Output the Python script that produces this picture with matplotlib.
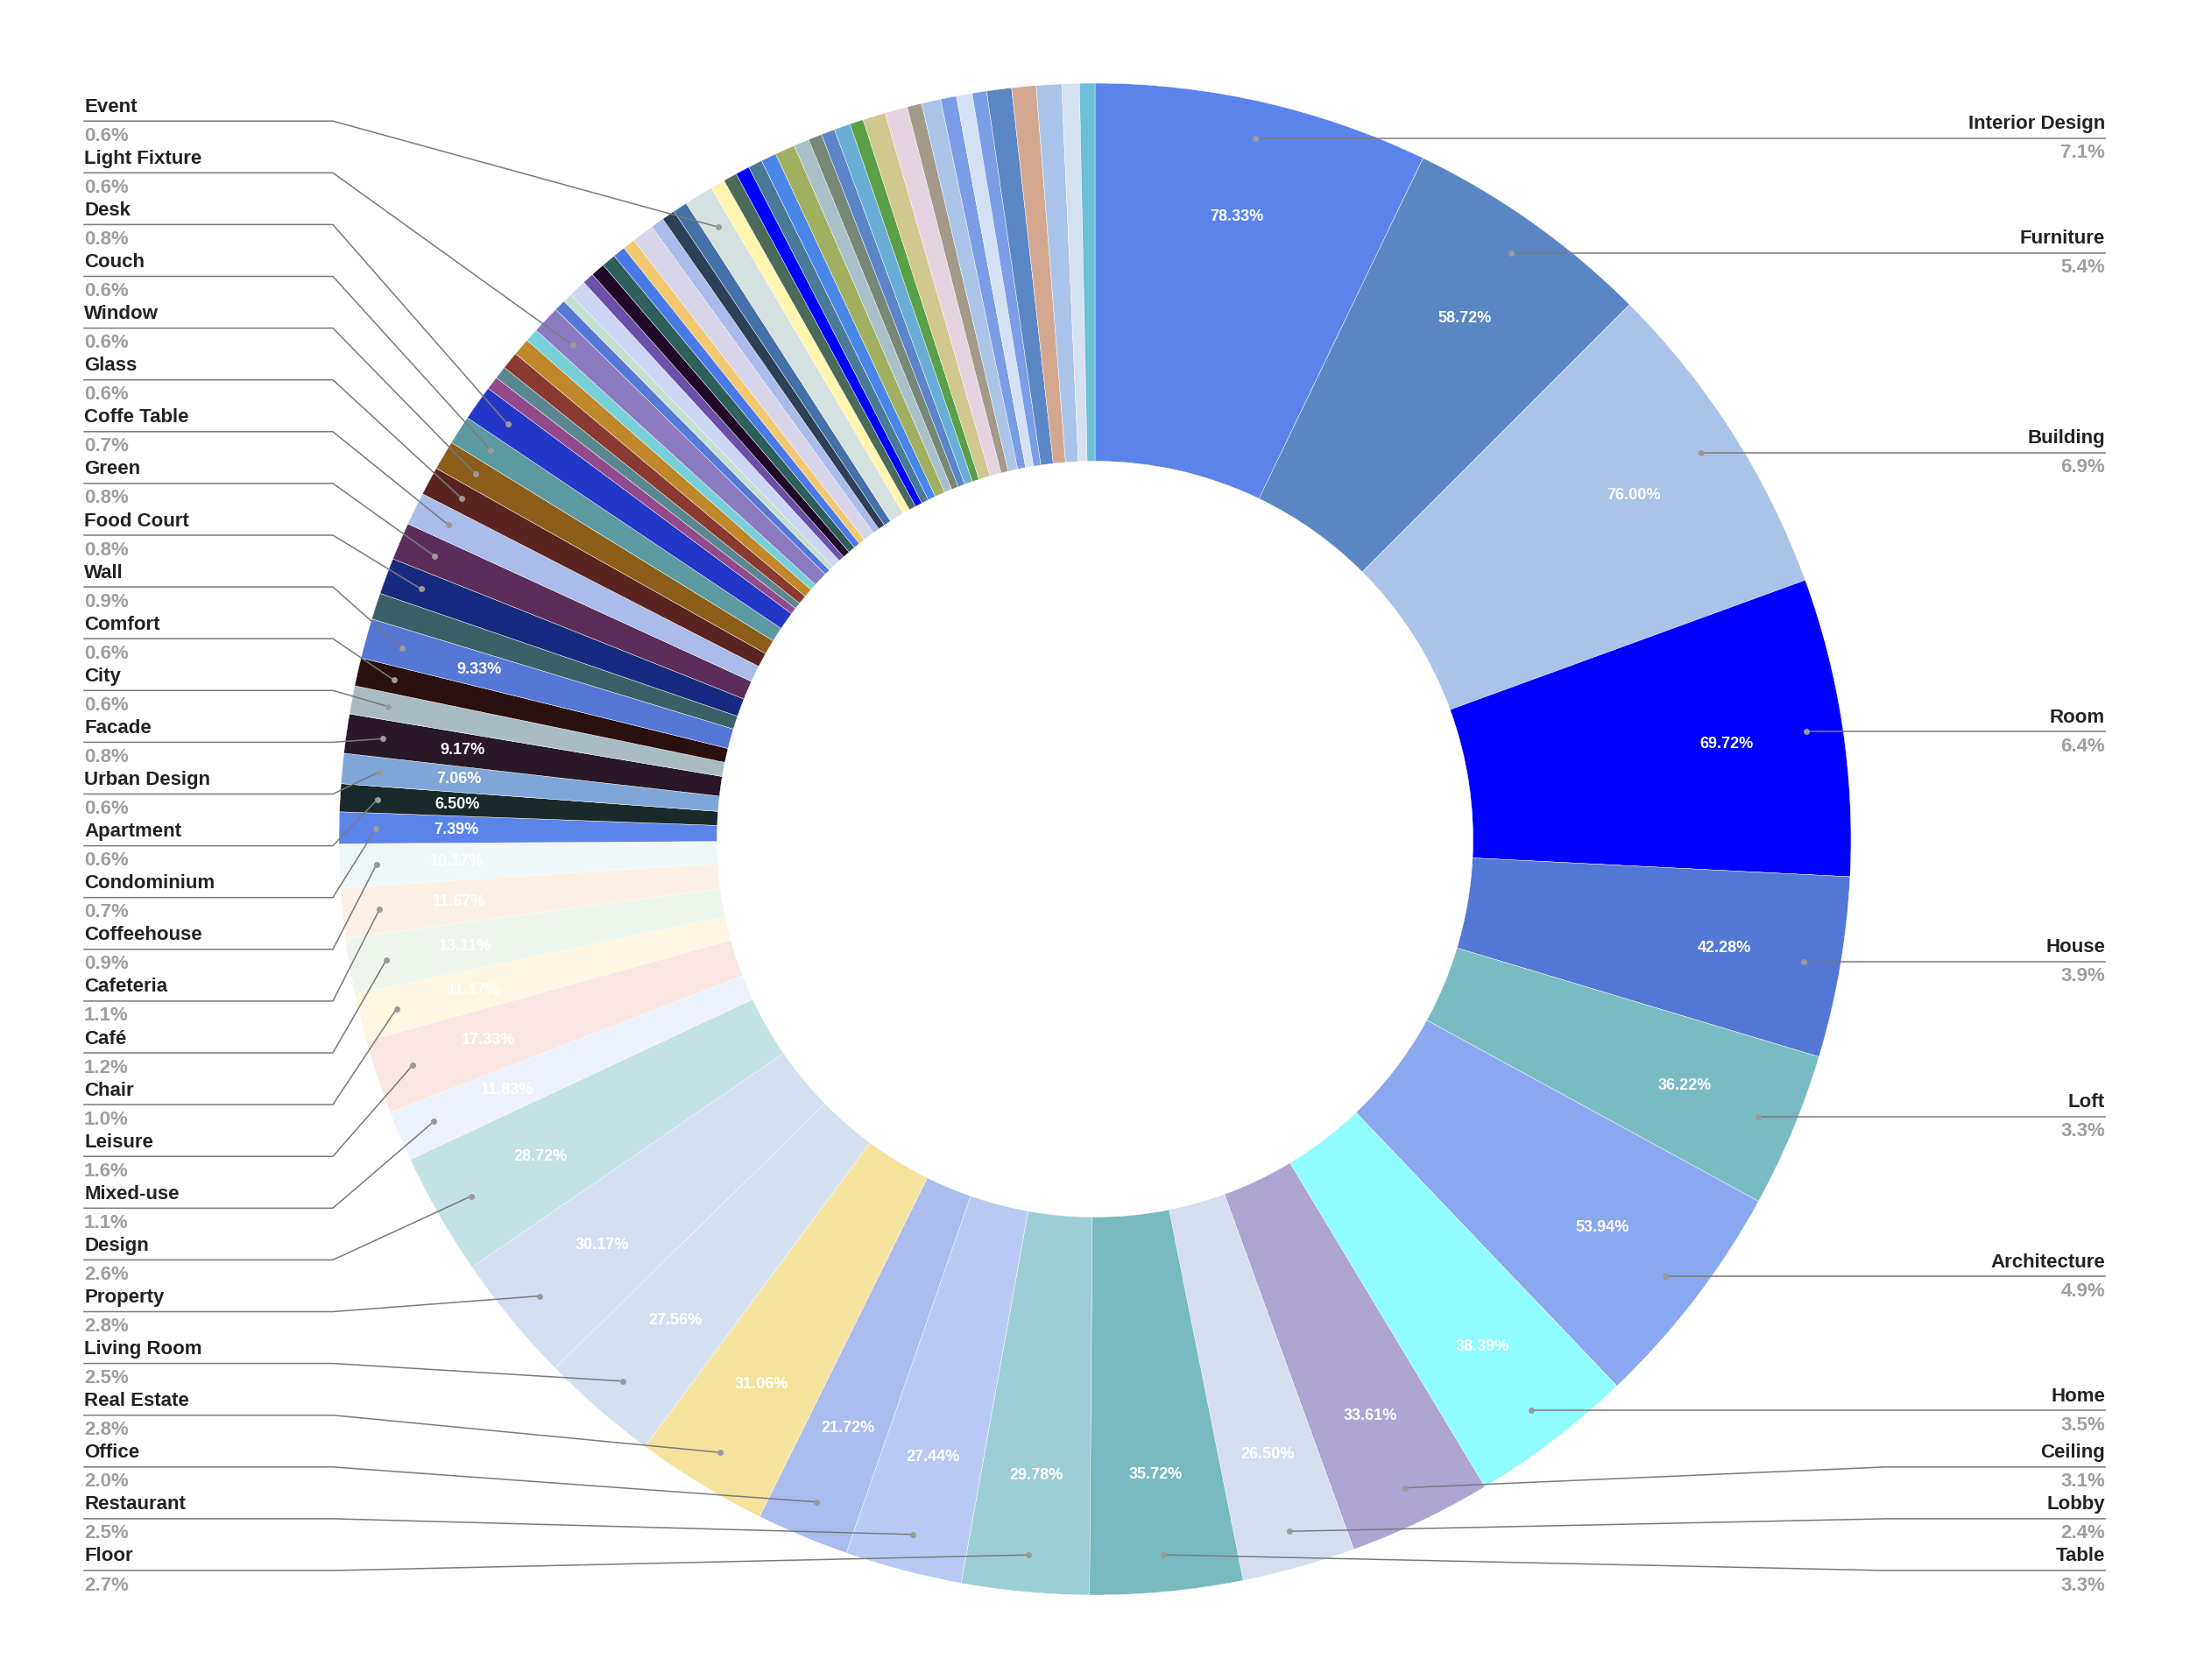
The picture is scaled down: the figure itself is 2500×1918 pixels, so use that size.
import matplotlib.pyplot as plt
import numpy as np

plt.rcParams['font.family'] = ['Liberation Sans', 'DejaVu Sans']

# slices, clockwise from 12 o'clock ("" = slice without outer label)
names = ["Interior Design", "Furniture", "Building", "Room", "House", "Loft",
         "Architecture", "Home", "Ceiling", "Lobby", "Table",
         "Floor", "Restaurant", "Office", "Real Estate", "Living Room", "Property",
         "Design", "Mixed-use", "Leisure", "Chair", "Café", "Cafeteria", "Coffeehouse",
         "Condominium", "Apartment", "Urban Design", "Facade", "City", "Comfort", "Wall",
         "", "Food Court", "Green", "Coffe Table", "Glass", "Window", "Couch", "Desk",
         "", "", "", "", "",
         "Light Fixture",
         "", "", "", "", "", "", "", "", "", "", "", "",
         "Event",
         "", "", "", "", "", "", "", "", "", "", "", "", "", "", "", "", "", "", "", "",
         "", "", ""]

values = [78.33, 58.72, 76.00, 69.72, 42.28, 36.22, 53.94, 38.39, 33.61, 26.50, 35.72,
          29.78, 27.44, 21.72, 31.06, 27.56, 30.17, 28.72, 11.83, 17.33, 11.17, 13.11,
          11.67, 10.17,
          7.39, 6.50, 7.06, 9.17, 6.6, 6.6, 9.33,
          6.2, 8.5, 8.8, 7.7, 6.7, 6.9, 6.8, 8.3,
          3.1, 3.0, 4.1, 4.1, 3.1,
          6.6,
          2.7, 2.2, 4.1, 2.7, 3.3, 3.3, 2.9, 2.9, 5.2, 3.1, 3.1, 3.4,
          6.8,
          3.4, 3.2, 3.3, 3.3, 3.6, 4.7, 3.6, 3.2, 3.2, 3.8, 3.2, 5.3, 5.3, 3.4, 4.5,
          3.7, 3.7, 3.4, 5.8, 5.7, 5.9, 4.1, 3.6]

colors = ["#5b83ea", "#5b86c4", "#a9c4e8", "#0000ff", "#5478d6", "#78bbc2",
          "#8aa8f0", "#8ffcff", "#aea5d2", "#d4deef", "#79bac1",
          "#9dcdd5", "#b8c9f4", "#aabdef", "#f5e29d", "#d4e0f0", "#d3dff0",
          "#c2e2e4", "#edf1fb", "#f8e7e5", "#fdf6e3", "#eef5ed", "#fbf0e6", "#eff7f9",
          "#5b83ea", "#1a2a2a", "#7fa6d8", "#291828", "#a9bcc1", "#2a1010", "#5577d5",
          "#3a6068", "#162a80", "#5c2d5a", "#a9bcea", "#5a2520", "#8c5e1a", "#5a9aa0", "#2236c8",
          "#924a8c", "#5a8890", "#8a3a30", "#c0882a", "#78d0d8",
          "#8a7bc0",
          "#5878d8", "#c4e0d0", "#cdd6f4", "#6a50a8", "#200828", "#2f5f5a", "#4a7ae8",
          "#f2c870", "#d8d4ea", "#a9bcea", "#2e4058", "#4472a8",
          "#d5e0e0",
          "#fff5b0", "#4a6a5a", "#0000ff", "#4a7a98", "#4a86e8", "#a0b060", "#aac0c8",
          "#788878", "#5b85c8", "#6aaed6", "#5aa048", "#d0c88e", "#e4d4e0", "#a39a8a",
          "#aac5e8", "#7b9de6", "#d4e0f4", "#7b9ee6", "#5b87c5", "#d4a890", "#a9c4e8",
          "#d5e0f0", "#6bbfd6"]

inner_shown = ["Interior Design", "Furniture", "Building", "Room", "House", "Loft",
               "Architecture", "Home", "Ceiling", "Lobby", "Table", "Floor", "Restaurant",
               "Office", "Real Estate", "Living Room", "Property", "Design", "Mixed-use",
               "Leisure", "Chair", "Café", "Cafeteria", "Coffeehouse", "Condominium",
               "Apartment", "Urban Design", "Facade", "Wall"]

W, H = 2500, 1918
cx, cy = 1250, H - 958
R = 863

fig = plt.figure(figsize=(25, 19.18), dpi=100)
ax = fig.add_axes([0, 0, 1, 1])
wedges, _ = ax.pie(values, radius=R, center=(cx, cy), startangle=90, counterclock=False,
                   colors=colors,
                   wedgeprops=dict(width=R * 0.5, edgecolor='white', linewidth=0.3))
ax.set_xlim(0, W)
ax.set_ylim(0, H)
ax.set_aspect('equal')
ax.axis('off')

total = sum(values)
gap, top, bottom = 59.1, 137, 1793

left, right = [], []
for w, name, v in zip(wedges, names, values):
    mid = np.deg2rad((w.theta1 + w.theta2) / 2)
    if name in inner_shown:
        ax.text(cx + 0.845 * R * np.cos(mid), cy + 0.845 * R * np.sin(mid),
                f"{v:.2f}%", color='white', fontsize=13, fontweight='bold',
                ha='center', va='center')
    if name:
        dx, dy = cx + 0.951 * R * np.cos(mid), cy + 0.951 * R * np.sin(mid)
        item = [H - dy, dx, dy, name, v / total * 100]
        (right if dx > cx else left).append(item)


def spread(items):
    items.sort(key=lambda t: t[0])
    ys = [t[0] for t in items]
    for i in range(len(ys)):
        ys[i] = max(ys[i], top if i == 0 else ys[i - 1] + gap)
    ys[-1] = min(ys[-1], bottom)
    for i in range(len(ys) - 2, -1, -1):
        ys[i] = min(ys[i], ys[i + 1] - gap)
    return ys


for items, elbow, edge, ha in [(left, 380, 96, 'left'), (right, 2153, 2403, 'right')]:
    ys = spread(items)
    for (ny, dx, dy, name, pct), ly in zip(items, ys):
        ly = H - ly
        ax.plot([dx, elbow, edge], [dy, ly, ly], color='#7a7a7a', lw=1.1, zorder=3)
        ax.plot(dx, dy, 'o', color='#9a9a9a', markersize=4, zorder=4)
        ax.text(edge, ly + 16, name, ha=ha, va='center', fontsize=16,
                fontweight='bold', color='#222222')
        ax.text(edge, ly - 17, f"{pct:.1f}%", ha=ha, va='center', fontsize=16,
                fontweight='bold', color='#9e9e9e')

plt.savefig('out.png', dpi=100, facecolor='white')
